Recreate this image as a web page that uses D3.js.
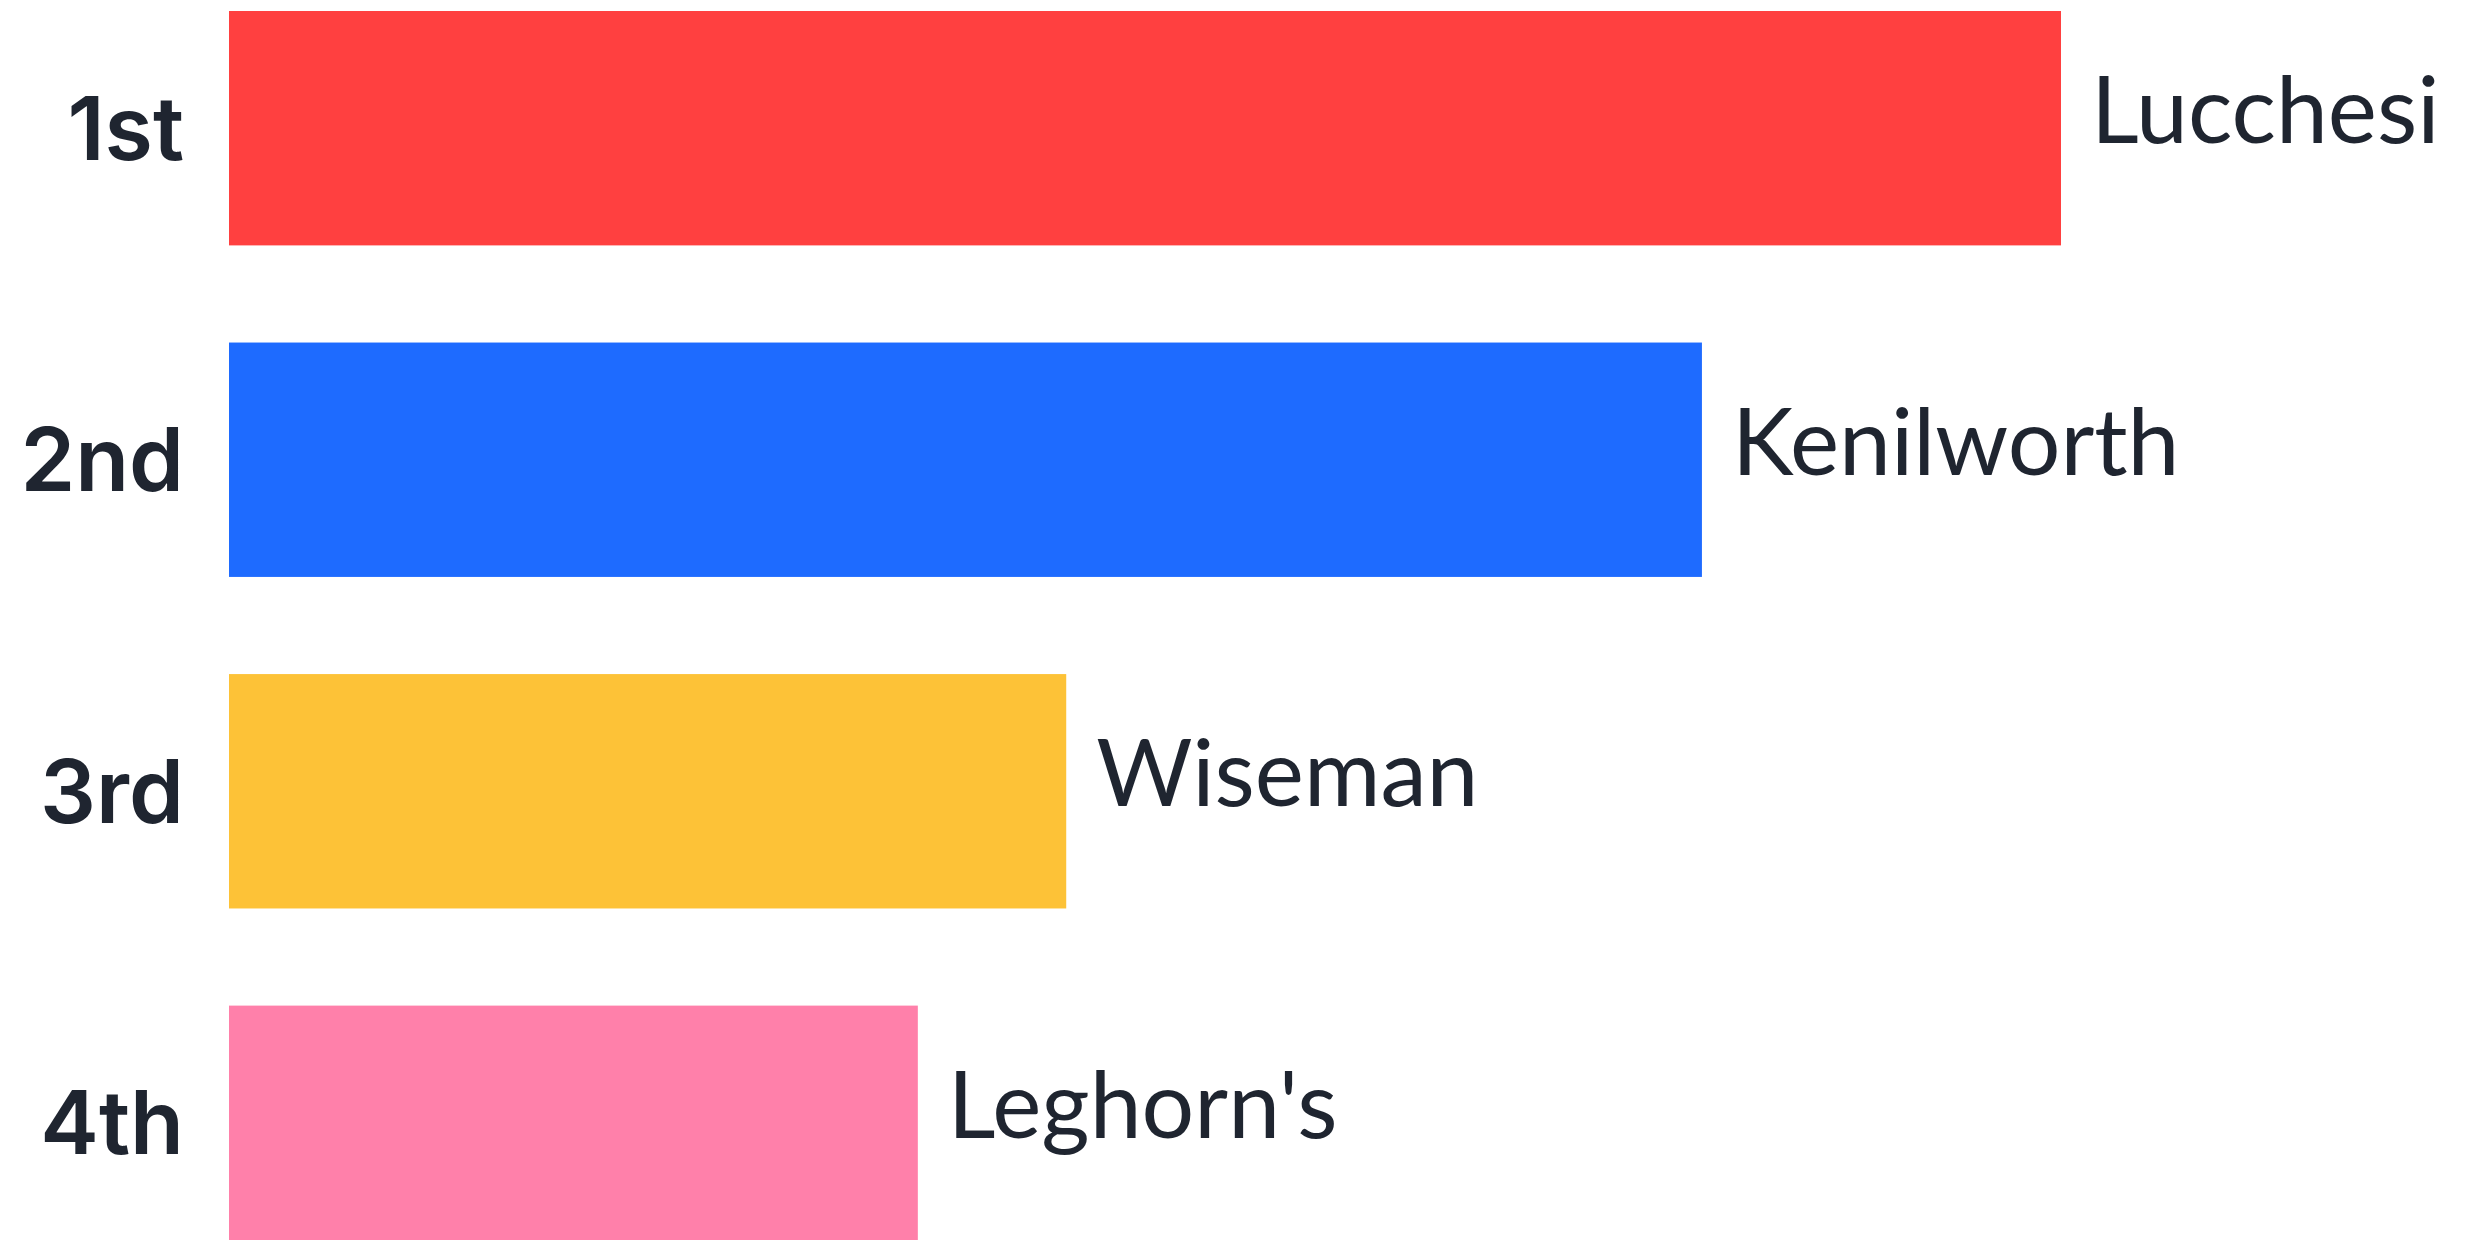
<!DOCTYPE html>
<html>
<head>
<meta charset="utf-8">
<script src="https://cdn.jsdelivr.net/npm/d3@7"></script>
<style>
  html, body { margin: 0; padding: 0; background: #ffffff; }
  svg { display: block; }
</style>
</head>
<body>
<svg id="chart" width="2484" height="1253"></svg>
<script>
const ranks = ["1st", "2nd", "3rd", "4th"];
const names = ["Lucchesi", "Kenilworth", "Wiseman", "Leghorn's"];
const values = [100, 80.4, 45.7, 37.6];
const colors = ["#FF4040", "#1E6BFF", "#FDC237", "#FF80AA"];

const svg = d3.select("#chart");
const left = 229, right = 2061;
const x = d3.scaleLinear().domain([0, 100]).range([left, right]);
const y = d3.scaleBand().domain(ranks).range([11, 1240]).paddingInner(0.293).paddingOuter(0);

const data = ranks.map((r, i) => ({ rank: r, name: names[i], value: values[i], color: colors[i] }));

svg.selectAll("rect.bar").data(data).enter().append("rect")
  .attr("class", "bar")
  .attr("x", x(0))
  .attr("y", d => y(d.rank))
  .attr("width", d => x(d.value) - x(0))
  .attr("height", y.bandwidth())
  .attr("fill", d => d.color);

const axis = d3.axisLeft(y).tickSize(0).tickPadding(45);
const g = svg.append("g").attr("transform", `translate(${left},0)`).call(axis);
g.select(".domain").remove();
g.selectAll("text")
  .attr("font-family", "Inter, 'Open Sans', sans-serif")
  .attr("font-weight", 600)
  .attr("font-size", 88)
  .attr("fill", "#1F2530")
  .attr("dy", "0.36em");

svg.selectAll("text.val").data(data).enter().append("text")
  .attr("class", "val")
  .attr("x", d => x(d.value) + 30)
  .attr("y", d => y(d.rank) + y.bandwidth() / 2 + 15)
  .attr("font-family", "Lato, Inter, sans-serif")
  .attr("font-weight", 400)
  .attr("font-size", 93)
  .attr("fill", "#1F2530")
  .text(d => d.name);
</script>
</body>
</html>
